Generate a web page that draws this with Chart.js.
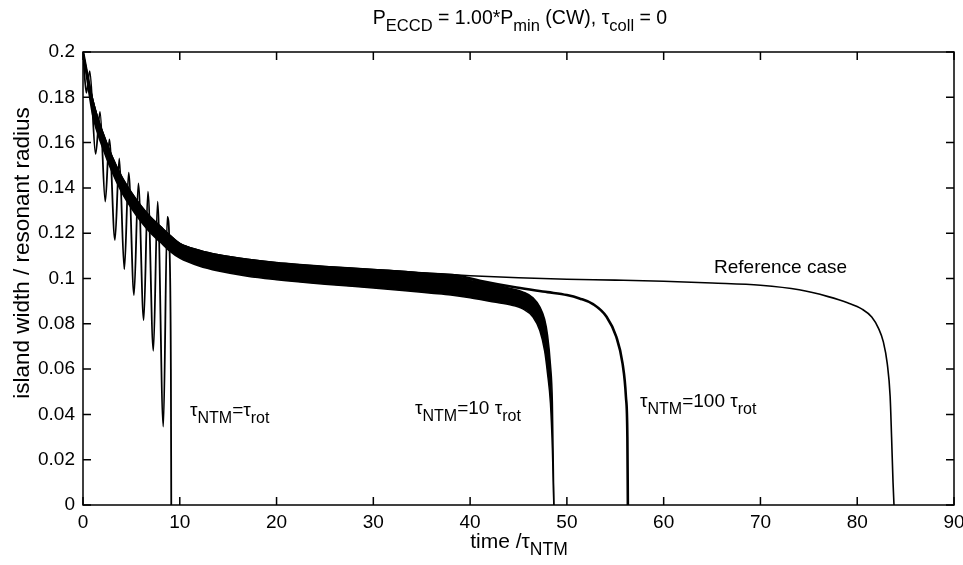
<!DOCTYPE html>
<html>
<head>
<meta charset="utf-8">
<script src="https://cdn.jsdelivr.net/npm/chart.js@4/dist/chart.umd.min.js"></script>
<style>
  html, body { margin: 0; padding: 0; background: #fff; }
  #wrap { width: 963px; height: 565px; }
</style>
</head>
<body>
<div id="wrap"><canvas id="myChart" width="963" height="565"></canvas></div>
<script>
// tick labels
var xTicks = [0, 10, 20, 30, 40, 50, 60, 70, 80, 90];
var yTicks = [0, 0.02, 0.04, 0.06, 0.08, 0.1, 0.12, 0.14, 0.16, 0.18, 0.2];

// reference case
var refT = [0, 0.5, 1, 1.5, 2, 3, 4, 5, 6, 7, 8, 9, 10, 12, 14, 17, 20, 25, 30, 35, 40, 45, 50, 55, 60, 65, 70, 74, 77, 79, 80.5, 81.5, 82.2, 82.7, 83.1, 83.4, 83.55, 83.7, 83.8];
var refW = [0.2, 0.188, 0.179, 0.171, 0.165, 0.154, 0.145, 0.138, 0.132, 0.127, 0.123, 0.119, 0.1155, 0.1125, 0.1105, 0.1085, 0.107, 0.1053, 0.104, 0.1025, 0.1012, 0.1003, 0.0997, 0.0993, 0.0988, 0.098, 0.097, 0.095, 0.092, 0.0893, 0.0865, 0.083, 0.078, 0.072, 0.0625, 0.048, 0.03, 0.01, 0];

// tau_NTM = 100 tau_rot
var r100T = [0, 1, 2, 3, 4, 5, 6, 7, 8, 9, 10, 12, 14, 17, 20, 25, 30, 35, 38.6, 41, 44.8, 48, 50, 51.3, 52.7, 54.1, 55.1, 55.75, 56.1, 56.25, 56.3];
var r100W = [0.2, 0.178, 0.164, 0.153, 0.144, 0.137, 0.131, 0.126, 0.122, 0.118, 0.115, 0.112, 0.11, 0.108, 0.1065, 0.1048, 0.1035, 0.1022, 0.1013, 0.099, 0.096, 0.094, 0.0927, 0.0912, 0.0887, 0.0831, 0.0743, 0.0625, 0.0478, 0.03, 0];

// tau_NTM = 10 tau_rot (dense oscillation, drawn as its envelope)
var b10T = [0, 1, 2, 3, 4, 5, 6, 7, 8, 9, 10, 12, 14, 17, 20, 25, 30, 33, 36, 38, 40, 42, 44, 45.5, 46.5, 47.2, 47.7, 48.0, 48.3, 48.5, 48.65];
var b10Upper = [0.2, 0.179, 0.165, 0.154, 0.145, 0.138, 0.132, 0.127, 0.123, 0.119, 0.1155, 0.1125, 0.1105, 0.1085, 0.107, 0.1053, 0.104, 0.1032, 0.102, 0.1012, 0.0995, 0.0978, 0.0958, 0.094, 0.0915, 0.0875, 0.082, 0.075, 0.062, 0.045, 0];
var b10Lower = [0.2, 0.172, 0.158, 0.147, 0.138, 0.131, 0.125, 0.12, 0.116, 0.112, 0.109, 0.1055, 0.1033, 0.101, 0.0995, 0.0975, 0.0958, 0.0947, 0.0935, 0.0927, 0.0915, 0.09, 0.0885, 0.0865, 0.083, 0.077, 0.068, 0.058, 0.045, 0.025, 0];

// tau_NTM = tau_rot
var rotT = [0, 0.35, 0.7, 1.3, 1.76, 2.3, 2.72, 3.3, 3.75, 4.27, 4.72, 5.27, 5.72, 6.27, 6.71, 7.27, 7.71, 8.3, 8.71, 8.95, 9.08, 9.12];
var rotW = [0.2, 0.182, 0.1915, 0.155, 0.1736, 0.134, 0.1614, 0.117, 0.153, 0.104, 0.1467, 0.0927, 0.142, 0.0816, 0.1383, 0.0681, 0.1339, 0.0346, 0.1272, 0.112, 0.06, 0];

const FONT = '"Liberation Sans", Arial, Helvetica, sans-serif';
var FS = 19, SUB = 16;

function pts(xs, ys) {
  return xs.map((x, i) => ({ x: x, y: ys[i] }));
}

// text with subscripts: parts = [[text, isSub], ...]
function richWidth(ctx, parts) {
  var w = 0;
  parts.forEach(p => {
    ctx.font = (p[1] ? SUB : FS) + 'px ' + FONT;
    w += ctx.measureText(p[0]).width;
  });
  return w;
}
function drawRich(ctx, parts, x, y, align) {
  ctx.save();
  ctx.textBaseline = 'alphabetic';
  ctx.textAlign = 'left';
  ctx.fillStyle = '#000';
  var w = richWidth(ctx, parts);
  var cx = align === 'center' ? x - w / 2 : x;
  parts.forEach(p => {
    ctx.font = (p[1] ? SUB : FS) + 'px ' + FONT;
    ctx.fillText(p[0], cx, p[1] ? y + 7 : y);
    cx += ctx.measureText(p[0]).width;
  });
  ctx.restore();
}

const decor = {
  id: 'decor',
  afterDatasetsDraw(chart) {
    const ctx = chart.ctx;
    const a = chart.chartArea;
    const xs = chart.scales.x, ys = chart.scales.y;
    ctx.save();
    ctx.strokeStyle = '#000';
    ctx.lineWidth = 1.5;
    ctx.strokeRect(a.left, a.top, a.right - a.left, a.bottom - a.top);
    ctx.beginPath();
    xTicks.forEach(v => {
      const px = xs.getPixelForValue(v);
      ctx.moveTo(px, a.bottom); ctx.lineTo(px, a.bottom - 8);
      ctx.moveTo(px, a.top); ctx.lineTo(px, a.top + 8);
    });
    yTicks.forEach(v => {
      const py = ys.getPixelForValue(v);
      ctx.moveTo(a.left, py); ctx.lineTo(a.left + 8, py);
      ctx.moveTo(a.right, py); ctx.lineTo(a.right - 8, py);
    });
    ctx.stroke();
    ctx.restore();

    // title and axis titles
    FS = 19.5; SUB = 16.5;
    drawRich(ctx, [['P', 0], ['ECCD', 1], [' = 1.00*P', 0], ['min', 1], [' (CW), \u03c4', 0], ['coll', 1], [' = 0', 0]], 520, 24, 'center');
    FS = 21; SUB = 17.5;
    drawRich(ctx, [['time /\u03c4', 0], ['NTM', 1]], 519, 548, 'center');
    FS = 22.5;
    ctx.save();
    ctx.translate(29, 253);
    ctx.rotate(-Math.PI / 2);
    drawRich(ctx, [['island width / resonant radius', 0]], 0, 0, 'center');
    ctx.restore();

    // curve labels
    FS = 19; SUB = 16;
    drawRich(ctx, [['\u03c4', 0], ['NTM', 1], ['=\u03c4', 0], ['rot', 1]], 190, 416, 'left');
    drawRich(ctx, [['\u03c4', 0], ['NTM', 1], ['=10 \u03c4', 0], ['rot', 1]], 415, 414, 'left');
    drawRich(ctx, [['\u03c4', 0], ['NTM', 1], ['=100 \u03c4', 0], ['rot', 1]], 640, 407, 'left');
    drawRich(ctx, [['Reference case', 0]], 714, 273, 'left');
  }
};

const lineBase = {
  pointRadius: 0,
  borderColor: '#000',
  backgroundColor: '#000',
  cubicInterpolationMode: 'monotone',
  fill: false
};

new Chart(document.getElementById('myChart'), {
  type: 'line',
  data: {
    datasets: [
      Object.assign({}, lineBase, { label: 'b10 upper', data: pts(b10T, b10Upper), borderWidth: 1.5, fill: '+1' }),
      Object.assign({}, lineBase, { label: 'b10 lower', data: pts(b10T, b10Lower), borderWidth: 1.5 }),
      Object.assign({}, lineBase, { label: 'reference', data: pts(refT, refW), borderWidth: 1.6 }),
      Object.assign({}, lineBase, { label: '100', data: pts(r100T, r100W), borderWidth: 2.6 }),
      Object.assign({}, lineBase, { label: 'rot', data: pts(rotT, rotW), borderWidth: 1.8 })
    ]
  },
  options: {
    responsive: false,
    animation: false,
    devicePixelRatio: 1,
    layout: { padding: { left: 0, right: 9, top: 52, bottom: 0 } },
    plugins: { legend: { display: false }, tooltip: { enabled: false } },
    scales: {
      x: {
        type: 'linear', min: 0, max: 90,
        afterBuildTicks: s => { s.ticks = xTicks.map(v => ({ value: v })); },
        afterFit: s => { s.height = 60; s.paddingLeft = 0; s.paddingRight = 0; },
        grid: { display: false, drawTicks: false },
        border: { display: false },
        ticks: { padding: 6, color: '#000', font: { family: FONT, size: 19 }, maxRotation: 0, callback: v => String(v) }
      },
      y: {
        type: 'linear', min: 0, max: 0.2,
        afterBuildTicks: s => { s.ticks = yTicks.map(v => ({ value: v })); },
        afterFit: s => { s.width = 83; s.paddingTop = 0; s.paddingBottom = 0; },
        grid: { display: false, drawTicks: false },
        border: { display: false },
        ticks: { padding: 8, color: '#000', font: { family: FONT, size: 19 }, callback: v => String(+v.toFixed(2)) }
      }
    }
  },
  plugins: [decor]
});
</script>
</body>
</html>
